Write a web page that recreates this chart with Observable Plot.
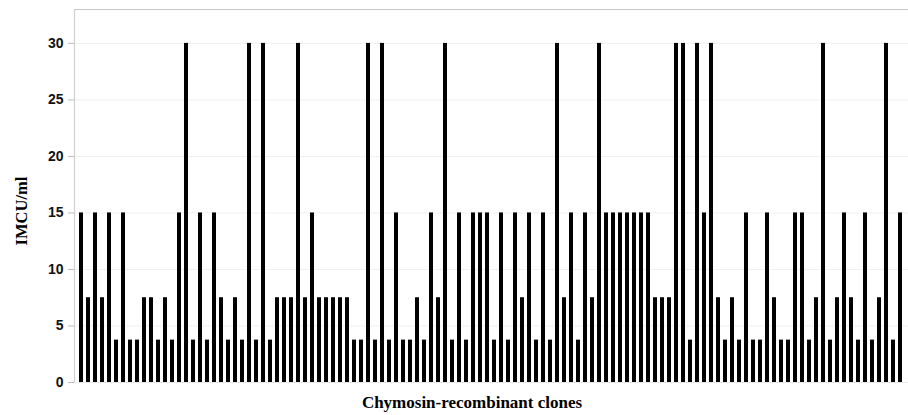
<!DOCTYPE html>
<html>
<head>
<meta charset="utf-8">
<script src="https://cdn.jsdelivr.net/npm/d3@7"></script>
<script src="https://cdn.jsdelivr.net/npm/@observablehq/plot@0.6"></script>
<style>
  html, body { margin: 0; padding: 0; background: #fff; }
  #chart svg { display: block; }
  g[aria-label="y-axis tick"] path { stroke: #bdbdbd; }
</style>
</head>
<body>
<div id="chart"></div>
<script>
// IMCU/ml activity for each chymosin-recombinant clone (left to right)
const activity = [
  15,7.5,15,7.5,15,3.75,15,3.75,3.75,7.5,7.5,3.75,7.5,3.75,15,30,3.75,15,3.75,15,7.5,3.75,7.5,3.75,
  30,3.75,30,3.75,7.5,7.5,7.5,30,7.5,15,7.5,7.5,7.5,7.5,7.5,3.75,3.75,30,3.75,30,3.75,15,3.75,3.75,
  7.5,3.75,15,7.5,30,3.75,15,3.75,15,15,15,3.75,15,3.75,15,7.5,15,3.75,15,3.75,30,7.5,15,3.75,
  15,7.5,30,15,15,15,15,15,15,15,7.5,7.5,7.5,30,30,3.75,30,15,30,7.5,3.75,7.5,3.75,15,
  3.75,3.75,15,7.5,3.75,3.75,15,15,3.75,7.5,30,3.75,7.5,15,7.5,3.75,15,3.75,7.5,30,3.75,15
];
const clones = activity.map((_, i) => i + 1);
const yTicks = [0, 5, 10, 15, 20, 25, 30];
const yMax = 33;
const yLabel = "IMCU/ml";
const xLabel = "Chymosin-recombinant clones";

const data = clones.map((c, i) => ({clone: c, value: activity[i]}));

const W = 908, H = 415;
const plot = Plot.plot({
  width: W,
  height: H,
  marginLeft: 74,
  marginRight: 0,
  marginTop: 9,
  marginBottom: 33,
  style: {fontFamily: "'Liberation Sans', Arial, sans-serif", fontSize: "14px", fontWeight: "bold", color: "#111", background: "#fff"},
  x: {type: "band", domain: clones, padding: 0.42, align: 0.5, axis: null},
  y: {domain: [0, yMax], ticks: yTicks, tickSize: 6, tickPadding: 5, label: null, tickFormat: d3.format("d")},
  marks: [
    Plot.ruleY(yTicks.filter(d => d > 0), {stroke: "#f0f0f0", strokeWidth: 1}),
    Plot.ruleY([yMax], {stroke: "#c8c8c8", strokeWidth: 1.2}),
    Plot.barY(data, {x: "clone", y: "value", fill: "#000"})
  ]
});

const svg = d3.select(plot);
const ys = plot.scale("y");
// left border of the plot area
svg.append("line")
  .attr("x1", 74.5).attr("x2", 74.5)
  .attr("y1", ys.apply(yMax)).attr("y2", ys.apply(0))
  .attr("stroke", "#d0d0d0").attr("stroke-width", 1.2);
// baseline
svg.append("line")
  .attr("x1", 74).attr("x2", W)
  .attr("y1", ys.apply(0) + 0.5).attr("y2", ys.apply(0) + 0.5)
  .attr("stroke", "#e6e6e6").attr("stroke-width", 1);
// axis titles
svg.append("text")
  .attr("transform", `translate(27, 211) rotate(-90)`)
  .attr("text-anchor", "middle")
  .attr("font-family", "'Liberation Serif', 'Times New Roman', serif")
  .attr("font-weight", "bold")
  .attr("font-size", "16.5px")
  .attr("fill", "#000")
  .text(yLabel);
svg.append("text")
  .attr("x", 472).attr("y", 408)
  .attr("text-anchor", "middle")
  .attr("font-family", "'Liberation Serif', 'Times New Roman', serif")
  .attr("font-weight", "bold")
  .attr("font-size", "17px")
  .attr("fill", "#000")
  .text(xLabel);

// bring bars above border lines
svg.select('g[aria-label="bar"]').raise();

document.getElementById("chart").append(plot);
</script>
</body>
</html>
